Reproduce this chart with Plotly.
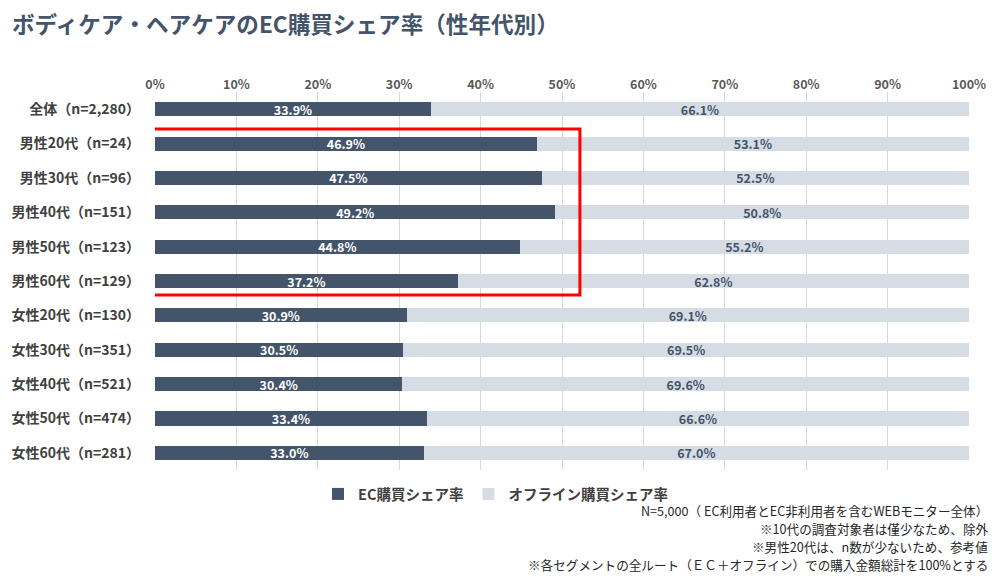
import plotly.graph_objects as go

categories = ["全体（n=2,280）", "男性20代（n=24）", "男性30代（n=96）", "男性40代（n=151）",
              "男性50代（n=123）", "男性60代（n=129）", "女性20代（n=130）", "女性30代（n=351）",
              "女性40代（n=521）", "女性50代（n=474）", "女性60代（n=281）"]
ec_share = [33.9, 46.9, 47.5, 49.2, 44.8, 37.2, 30.9, 30.5, 30.4, 33.4, 33.0]
offline_share = [66.1, 53.1, 52.5, 50.8, 55.2, 62.8, 69.1, 69.5, 69.6, 66.6, 67.0]
x_ticks = [0, 10, 20, 30, 40, 50, 60, 70, 80, 90, 100]
x_tick_labels = [f"{v}%" for v in x_ticks]
footnotes = [
    "N=5,000（ EC利用者とEC非利用者を含むWEBモニター全体）",
    "※10代の調査対象者は僅少なため、除外",
    "※男性20代は、n数が少ないため、参考値",
    "※各セグメントの全ルート（ＥＣ＋オフライン）での購入金額総計を100%とする",
]

FONT = "Noto Sans CJK JP"
DARK = "#44546A"
LIGHT = "#D6DCE4"

# page is offset by the 8px body margin; work in figure coordinates
OFF = 8
L, R, T, B = 155 - OFF, 1000 - (969 - OFF), 92 - OFF, 578 - (470 - OFF)
PW, PH = 1000 - L - R, 578 - T - B


def px_x(page_x):
    return (page_x - OFF - L) / PW


def px_y(page_y):
    return (578 - B - (page_y - OFF)) / PH


fig = go.Figure()
fig.add_trace(go.Bar(
    y=categories, x=ec_share, orientation="h", name="EC購買シェア率",
    marker=dict(color=DARK, line=dict(width=0)),
    text=[f"{v:.1f}%" for v in ec_share], textposition="inside", insidetextanchor="middle",
    constraintext="none",
    textfont=dict(color="white", size=12.5, family=FONT, weight="bold"),
    hoverinfo="skip",
))
fig.add_trace(go.Bar(
    y=categories, x=offline_share, orientation="h", name="オフライン購買シェア率",
    marker=dict(color=LIGHT, line=dict(width=0)),
    text=[f"{v:.1f}%" for v in offline_share], textposition="inside", insidetextanchor="middle",
    constraintext="none",
    textfont=dict(color="#44546A", size=12.5, family=FONT, weight="bold"),
    hoverinfo="skip",
))

fig.add_shape(type="rect", xref="x", yref="y", x0=-0.7, x1=52.2, y0=0.58, y1=5.41,
              line=dict(color="#FF0000", width=3), fillcolor="rgba(0,0,0,0)", layer="above")

for i, t in enumerate(footnotes):
    fig.add_annotation(text=t, xref="paper", yref="paper",
                       x=px_x(989), xanchor="right", y=px_y(510 + 18.3 * i), yanchor="middle",
                       showarrow=False, borderpad=0,
                       font=dict(family=FONT, size=12.6, color="#262626"))

fig.update_layout(
    width=1000, height=578,
    barmode="stack", bargap=0.59,
    plot_bgcolor="white", paper_bgcolor="white",
    margin=dict(l=L, r=R, t=T, b=B),
    font=dict(family=FONT),
    title=dict(text="ボディケア・ヘアケアのEC購買シェア率（性年代別）", x=0.004, xanchor="left",
               y=(578 - 17.5) / 578, yanchor="middle", pad=dict(t=0, b=0, l=0, r=0),
               font=dict(family=FONT, size=22.6, color="#44546A", weight="bold")),
    xaxis=dict(range=[0, 100], side="top", tickvals=x_ticks, ticktext=x_tick_labels,
               showgrid=True, gridcolor="#D9D9D9", gridwidth=1, zeroline=False,
               showline=False, ticks="", ticklen=0, automargin=False,
               tickfont=dict(family=FONT, size=12.5, color="#595959", weight="bold")),
    yaxis=dict(autorange="reversed", showgrid=False, zeroline=False, showline=False,
               ticks="", ticklabelstandoff=14, automargin=False,
               tickfont=dict(family=FONT, size=14, color="#404040", weight="bold")),
    legend=dict(orientation="h", x=px_x(318), xanchor="left", y=px_y(494),
                yanchor="middle", traceorder="normal", itemwidth=30,
                font=dict(family=FONT, size=14.5, color="#404040", weight="bold")),
    showlegend=True,
)

fig.write_html("out.html")
